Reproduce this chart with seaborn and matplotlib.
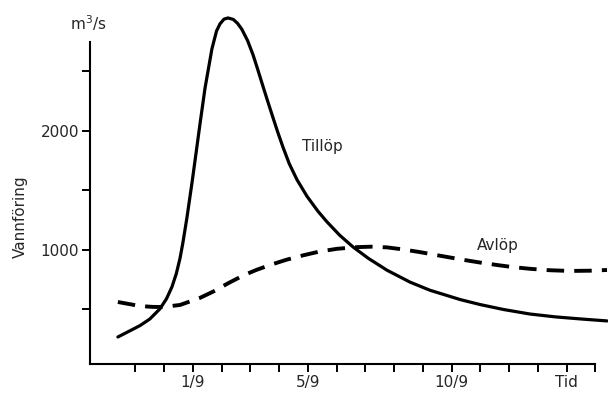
import matplotlib
matplotlib.use("Agg")
import matplotlib.pyplot as plt
import seaborn as sns
import pandas as pd

# Day of September (1 = 1/9), flow in m3/s
tillop_day = [-1.61, -1.12, -0.84, -0.50, -0.15, 0.08, 0.27, 0.42, 0.55, 0.65, 0.79,
              0.97, 1.10, 1.24, 1.42, 1.66, 1.82, 1.94, 2.08, 2.22, 2.40, 2.55, 2.70,
              2.90, 3.09, 3.25, 3.43, 3.60, 3.78, 3.95, 4.13, 4.35, 4.62, 4.97, 5.35,
              5.66, 6.10, 6.57, 7.10, 7.75, 8.55, 9.24, 10.3, 10.98, 11.8, 12.72,
              13.6, 14.46, 15.4]
tillop_flow = [269, 330, 365, 420, 505, 590, 690, 800, 930, 1060, 1270,
               1570, 1800, 2050, 2360, 2690, 2840, 2900, 2940, 2950, 2938, 2905, 2855,
               2760, 2640, 2520, 2380, 2250, 2115, 1990, 1865, 1725, 1590, 1450, 1325,
               1237, 1125, 1025, 930, 830, 730, 662, 583, 542, 500, 462,
               438, 421, 404]

avlop_day = [-1.61, -1.20, -0.84, -0.40, -0.04, 0.55, 1.24, 1.70, 2.22, 2.74, 3.20,
             3.68, 4.25, 4.83, 5.40, 6.01, 6.70, 7.20, 7.75, 8.30, 8.90, 9.59,
             10.39, 11.0, 11.57, 12.1, 12.72, 13.4, 14.11, 14.8, 15.4]
avlop_flow = [563, 545, 529, 522, 521, 538, 597, 650, 720, 785, 832,
              874, 918, 955, 987, 1010, 1024, 1028, 1022, 1005, 982, 952,
              918, 894, 874, 857, 842, 830, 824, 826, 832]

xtick_pos = list(range(-1, 16))
xtick_labels = {1: "1/9", 5: "5/9", 10: "10/9", 14: "Tid"}
ytick_pos = [500, 1000, 1500, 2000, 2500]
ytick_labels = {1000: "1000", 2000: "2000"}

sns.set_style("ticks")
plt.rcParams["font.family"] = ["DejaVu Sans"]

fig = plt.figure(figsize=(6.08, 3.94), dpi=100)
ax = fig.add_axes([90 / 608, 1 - 364 / 394, (607 - 90) / 608, (364 - 12) / 394])

df_t = pd.DataFrame({"day": tillop_day, "flow": tillop_flow})
df_a = pd.DataFrame({"day": avlop_day, "flow": avlop_flow})

sns.lineplot(data=df_t, x="day", y="flow", ax=ax, color="black", lw=2.3,
             sort=False, clip_on=False, solid_capstyle="round", solid_joinstyle="round")
sns.lineplot(data=df_a, x="day", y="flow", ax=ax, color="black", lw=2.8,
             sort=False, clip_on=False, linestyle=(0, (4.5, 2.6)))

ax.set_xlim(-2.58, 15.4)
ax.set_ylim(42, 3000)
ax.spines["top"].set_visible(False)
ax.spines["right"].set_visible(False)
ax.spines["left"].set_bounds(42, 2750)
ax.spines["bottom"].set_bounds(-2.58, 15.0)
for s in ("left", "bottom"):
    ax.spines[s].set_linewidth(1.5)
    ax.spines[s].set_color("black")

ax.set_xticks(xtick_pos)
ax.set_xticklabels([xtick_labels.get(p, "") for p in xtick_pos])
ax.set_yticks(ytick_pos)
ax.set_yticklabels([ytick_labels.get(p, "") for p in ytick_pos])
ax.tick_params(axis="both", direction="out", length=6, width=1.4, color="black",
               labelsize=11, pad=2)
ax.set_xlabel("")
ax.set_ylabel("")

ax.text(5.49, 1866, "Tillöp", fontsize=11, ha="center", va="center")
ax.text(11.6, 1042, "Avlöp", fontsize=11, ha="center", va="center")

fig.text(20 / 608, 1 - 217 / 394, "Vannföring", rotation=90, fontsize=11,
         ha="center", va="center")
fig.text(88 / 608, 1 - 23 / 394, "m$^3$/s", fontsize=11, ha="center", va="center")

fig.savefig("out.png", dpi=100)
